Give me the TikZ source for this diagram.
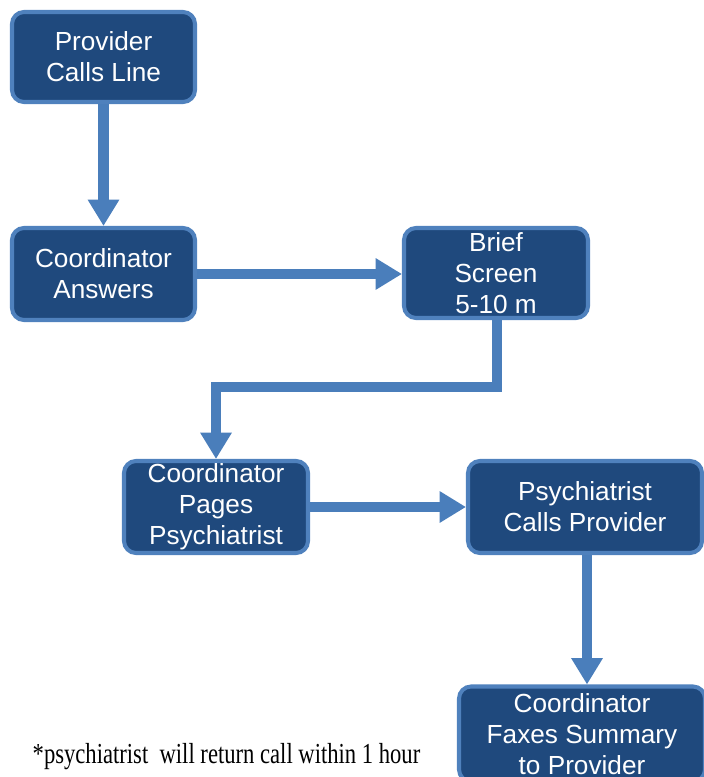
\documentclass[tikz,border=0pt]{standalone}
\usepackage{fontspec}
\usetikzlibrary{arrows.meta}
\newfontfamily\boxfont{Liberation Sans}
\newfontfamily\notefont[FakeStretch=0.78]{Liberation Serif}
\definecolor{boxfill}{RGB}{31,73,125}
\definecolor{boxline}{RGB}{79,129,189}
\definecolor{flowline}{RGB}{74,126,187}
\begin{document}
\begin{tikzpicture}[scale=1,
  stepbox/.style={draw=boxline, fill=boxfill, line width=2.3pt, rounded corners=0.24cm,
    text=white, align=center, inner sep=0pt, minimum height=1.8cm,
    font=\boxfont\fontsize{14.9}{17.6}\selectfont},
  flow/.style={draw=flowline, line width=5.7pt, -{Triangle[length=15pt,width=17pt]}}]
\useasboundingbox (0,0) rectangle (14.06,-15.54);
\coordinate (P) at (2.07,-1.14);
\coordinate (A) at (2.07,-5.48);
\coordinate (S) at (9.92,-5.46);
\coordinate (G) at (4.32,-10.14);
\coordinate (R) at (11.70,-10.14);
\coordinate (F) at (11.64,-14.68);
\coordinate (turn) at (9.94,-7.74);
\coordinate (note) at (4.53,-15.26);

\node[stepbox, minimum width=3.66cm] (provider) at (P) {Provider\\Calls Line};
\node[stepbox, minimum width=3.66cm, minimum height=1.84cm] (answers) at (A) {Coordinator\\Answers};
\node[stepbox, minimum width=3.68cm] (brief) at (S) {Brief\\Screen\\5-10 m};
\node[stepbox, minimum width=3.68cm, minimum height=1.84cm] (pages) at (G) {Coordinator\\Pages\\Psychiatrist};
\node[stepbox, minimum width=4.68cm, minimum height=1.84cm] (psych) at (R) {Psychiatrist\\Calls Provider};
\node[stepbox, minimum width=4.92cm, minimum height=1.9cm] (faxes) at (F) {Coordinator\\Faxes Summary\\to Provider};

\draw[flow] (provider.south) -- (answers.north);
\draw[flow] (answers.east) -- (answers.east -| brief.west);
\draw[flow] (brief.south -| turn) -- (turn) -| (pages.north);
\draw[flow] (pages.east) -- (pages.east -| psych.west);
\draw[flow] ([xshift=0.04cm]psych.south) -- ([xshift=0.04cm]psych.south |- faxes.north);

\node[anchor=base, font=\notefont\fontsize{16.5}{18}\selectfont] (footnote) at (note) {*psychiatrist\ \ will return call within 1 hour};
\end{tikzpicture}
\end{document}
